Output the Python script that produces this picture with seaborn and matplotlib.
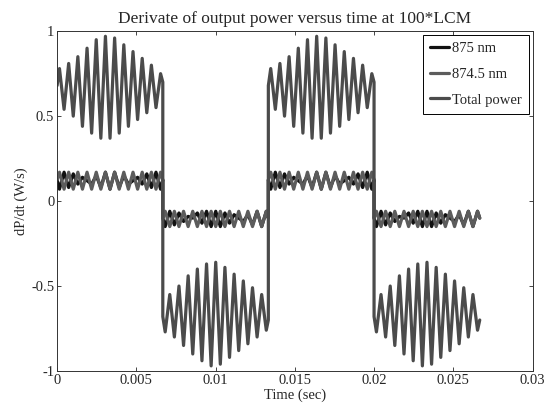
import numpy as np
import pandas as pd
import seaborn as sns
from matplotlib import pyplot as plt

# segment boundaries of the square-wave modulation (sec)
segment_starts = [0.0, 0.00667, 0.01333, 0.02]
segment_ends = [0.00667, 0.01333, 0.02, 0.02667]

# times of the oscillation extrema inside one segment (sec, from segment start)
extremum_times = [0.00015, 0.00044, 0.00073, 0.00102, 0.00131, 0.00160, 0.00189,
                  0.00218, 0.00247, 0.00276, 0.00305, 0.00334, 0.00363, 0.00392,
                  0.00421, 0.00450, 0.00479, 0.00508, 0.00537, 0.00566, 0.00595,
                  0.00624, 0.00653]

# total power, positive and negative halves (start, extrema..., end)
total_up = [0.68, 0.78, 0.54, 0.81, 0.50, 0.85, 0.44, 0.90, 0.40, 0.95, 0.37, 0.97,
            0.37, 0.96, 0.40, 0.92, 0.44, 0.88, 0.48, 0.84, 0.52, 0.80, 0.55, 0.75, 0.70]
total_down = [-0.68, -0.77, -0.55, -0.80, -0.50, -0.85, -0.44, -0.90, -0.40, -0.94, -0.37, -0.97,
              -0.36, -0.96, -0.39, -0.92, -0.43, -0.88, -0.47, -0.84, -0.51, -0.80, -0.55, -0.76, -0.70]

# 874.5 nm
gray_up = [0.125, 0.17, 0.07, 0.17, 0.07, 0.17, 0.07, 0.17, 0.07, 0.17, 0.07, 0.17,
           0.07, 0.17, 0.07, 0.17, 0.07, 0.17, 0.07, 0.17, 0.07, 0.17, 0.07, 0.17, 0.125]
gray_down = [-0.10, -0.06, -0.15, -0.06, -0.15, -0.06, -0.15, -0.06, -0.15, -0.06, -0.15, -0.06,
             -0.15, -0.06, -0.15, -0.06, -0.15, -0.06, -0.15, -0.06, -0.15, -0.06, -0.15, -0.06, -0.10]

# 875 nm
black_up = [0.125, 0.07, 0.17, 0.08, 0.16, 0.10, 0.14, 0.12, 0.10, 0.15, 0.08, 0.17,
            0.07, 0.17, 0.08, 0.15, 0.10, 0.12, 0.14, 0.10, 0.16, 0.08, 0.17, 0.07, 0.125]
black_down = [-0.10, -0.15, -0.06, -0.14, -0.07, -0.12, -0.09, -0.10, -0.07, -0.13, -0.06, -0.15,
              -0.06, -0.15, -0.07, -0.13, -0.08, -0.10, -0.12, -0.08, -0.14, -0.06, -0.15, -0.06, -0.10]

series_names = ["875 nm", "874.5 nm", "Total power"]
series_values = {
    "875 nm": [black_up, black_down, black_up, black_down],
    "874.5 nm": [gray_up, gray_down, gray_up, gray_down],
    "Total power": [total_up, total_down, total_up, total_down],
}

rows = []
for name in series_names:
    for seg, (t0, t1) in enumerate(zip(segment_starts, segment_ends)):
        times = [t0] + [t0 + t for t in extremum_times] + [t1]
        for t, v in zip(times, series_values[name][seg]):
            rows.append({"time": t, "value": v, "series": name})
df = pd.DataFrame(rows)

sns.set_style("ticks", {"xtick.direction": "in", "ytick.direction": "in"})
plt.rcParams["font.family"] = ["Liberation Serif", "DejaVu Serif"]

fig = plt.figure(figsize=(5.49, 4.05), dpi=100)
ax = fig.add_axes([0.104, 0.084, 0.866, 0.839])

ax = sns.lineplot(data=df, x="time", y="value", hue="series", hue_order=series_names,
                  palette=["#111111", "#5c5c5c", "#4b4b4b"], estimator=None, sort=False,
                  linewidth=2.3, ax=ax)

ax.set_xlim(0, 0.03)
ax.set_ylim(-1, 1)
ax.set_xticks([0, 0.005, 0.01, 0.015, 0.02, 0.025, 0.03])
ax.set_xticklabels(["0", "0.005", "0.01", "0.015", "0.02", "0.025", "0.03"])
ax.set_yticks([-1, -0.5, 0, 0.5, 1])
ax.set_yticklabels(["-1", "-0.5", "0", "0.5", "1"])
ax.tick_params(top=True, right=True, labelsize=10.5, length=3, width=0.6, pad=2)
for s in ax.spines.values():
    s.set_linewidth(0.7)
    s.set_color("#333333")

ax.set_xlabel("Time (sec)", fontsize=10.5, labelpad=1)
ax.set_ylabel("dP/dt (W/s)", fontsize=10.5, labelpad=2)
ax.set_title("Derivate of output power versus time at 100*LCM", fontsize=12.5, pad=6)

leg = ax.legend(loc="upper right", fontsize=10.5, frameon=True, fancybox=False,
                edgecolor="black", framealpha=1, handlelength=1.3, handletextpad=0.2,
                borderaxespad=0.25, borderpad=0.5, labelspacing=0.85)
leg.get_frame().set_linewidth(0.7)

fig.savefig("out.png", dpi=100)
